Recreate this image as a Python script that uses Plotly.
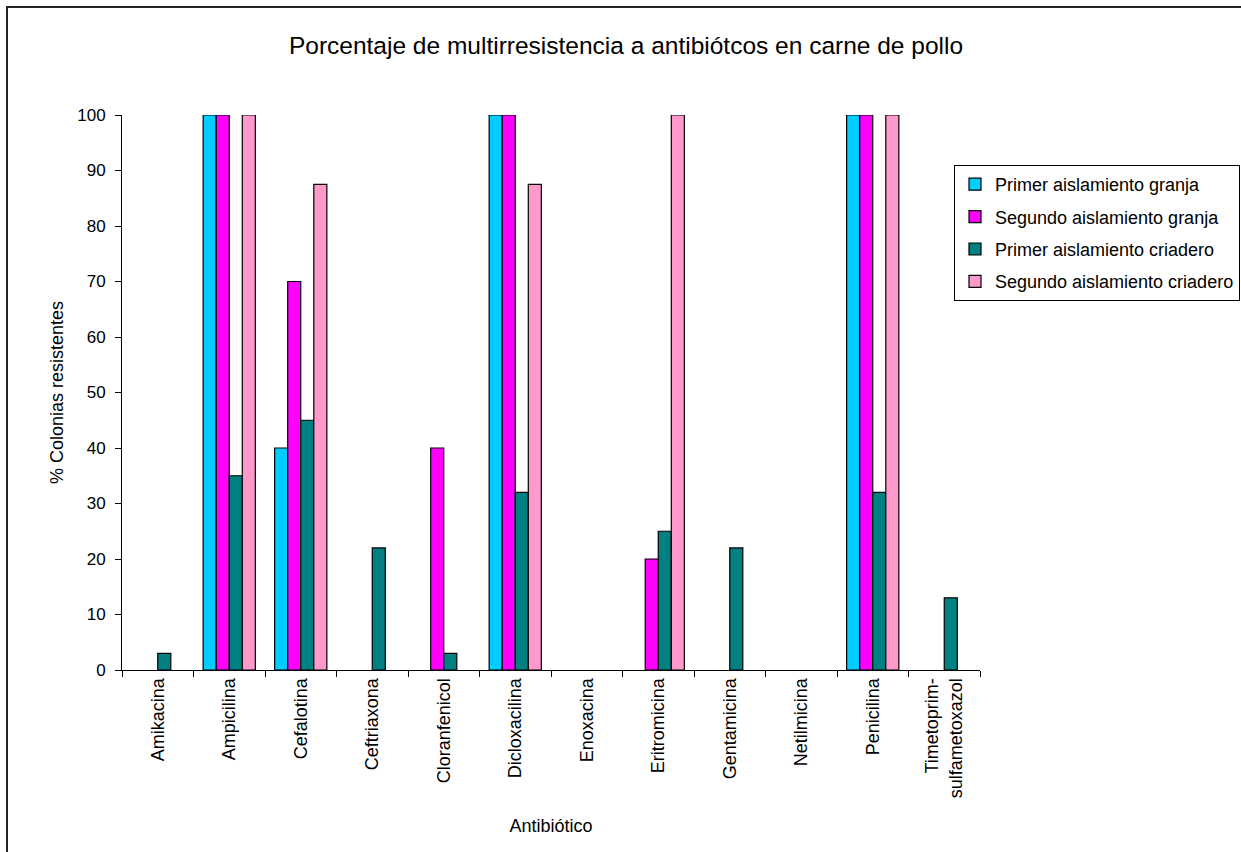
import plotly.graph_objects as go

# Antibiotic categories on the x axis
antibioticos = [
    "Amikacina", "Ampicilina", "Cefalotina", "Ceftriaxona", "Cloranfenicol",
    "Dicloxacilina", "Enoxacina", "Eritromicina", "Gentamicina", "Netilmicina",
    "Penicilina", "Timetoprim-<br>sulfametoxazol",
]

# % resistant colonies per isolation
primer_granja = [0, 100, 40, 0, 0, 100, 0, 0, 0, 0, 100, 0]
segundo_granja = [0, 100, 70, 0, 40, 100, 0, 20, 0, 0, 100, 0]
primer_criadero = [3, 35, 45, 22, 3, 32, 0, 25, 22, 0, 32, 13]
segundo_criadero = [0, 100, 87.5, 0, 0, 87.5, 0, 100, 0, 0, 100, 0]

series_names = [
    "Primer aislamiento granja",
    "Segundo aislamiento granja",
    "Primer aislamiento criadero",
    "Segundo aislamiento criadero",
]
series_values = [primer_granja, segundo_granja, primer_criadero, segundo_criadero]
series_colors = ["#00CCFF", "#FF00FF", "#008080", "#FF99CC"]

y_ticks = list(range(0, 101, 10))

FONT = "Liberation Sans, Arial, sans-serif"

fig = go.Figure()
for i, (name, vals, col) in enumerate(zip(series_names, series_values, series_colors)):
    # zero values are left blank so no outline sits on the baseline
    shown = [v if v else None for v in vals]
    fig.add_trace(go.Bar(
        x=antibioticos, y=shown, name=name,
        marker=dict(color=col, line=dict(color="black", width=1.2)),
        legendgroup=f"g{i}",
    ))

# plot-area geometry in pixels
W, H = 1241, 852
L, R, T, B = 122, 261, 115, 182
pw, ph = W - L - R, H - T - B

def px_x(p):
    return (p - L) / pw

def px_y(p):
    return (H - B - p) / ph

fig.update_layout(
    width=W, height=H,
    margin=dict(l=L, r=R, t=T, b=B, autoexpand=False),
    paper_bgcolor="white", plot_bgcolor="white",
    font=dict(family=FONT, color="black", size=17),
    barmode="group", bargap=0.27, bargroupgap=0,
    title=dict(
        text="Porcentaje de multirresistencia a antibiótcos en carne de pollo",
        xref="container", x=626 / W, xanchor="center",
        yref="container", y=1 - 45 / H, yanchor="middle",
        font=dict(size=24.5, family=FONT),
    ),
    legend=dict(
        x=px_x(1240), xanchor="right", y=px_y(165), yanchor="top",
        bordercolor="black", borderwidth=1, bgcolor="white",
        font=dict(size=18, family=FONT),
        tracegroupgap=6, itemwidth=30,
    ),
    xaxis=dict(
        type="category", tickangle=-90, tickson="boundaries",
        ticks="outside", ticklen=6, tickcolor="black",
        showline=True, linecolor="black", linewidth=1,
        showgrid=False, tickfont=dict(size=18, family=FONT),
        title=dict(text="Antibiótico", font=dict(size=18, family=FONT), standoff=22),
    ),
    yaxis=dict(
        range=[0, 100], tickvals=y_ticks, ticks="outside", ticklen=6,
        tickcolor="black", showline=True, linecolor="black", linewidth=1,
        showgrid=False, zeroline=False, tickfont=dict(size=17, family=FONT),
        ticklabelstandoff=6,
        title=dict(text="% Colonias resistentes", font=dict(size=18, family=FONT), standoff=8),
    ),
    shapes=[dict(
        type="rect", xref="paper", yref="paper",
        x0=px_x(7), x1=px_x(W + 10), y0=px_y(H + 10), y1=px_y(7),
        line=dict(color="#222222", width=2), fillcolor="rgba(0,0,0,0)", layer="below",
    )],
)

fig.write_html("out.html")
